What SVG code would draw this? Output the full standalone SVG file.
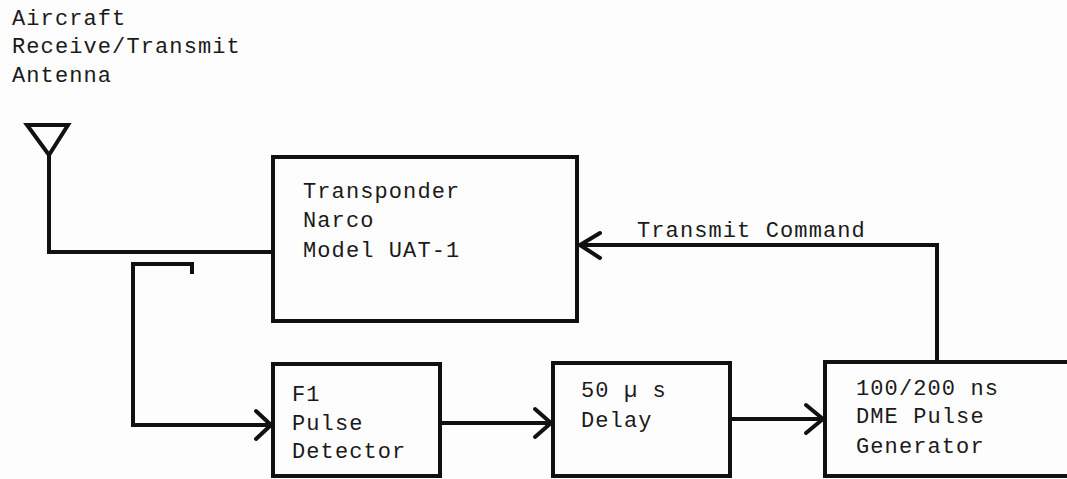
<svg xmlns="http://www.w3.org/2000/svg" width="1067" height="479" viewBox="0 0 1067 479">
<defs>
<style>
.box{fill:none;stroke:#111;stroke-width:4}
.ln{fill:none;stroke:#111;stroke-width:4;stroke-linejoin:miter}
.ah{fill:none;stroke:#111;stroke-width:4;stroke-linecap:round;stroke-linejoin:round}
text{font-family:"Liberation Mono","DejaVu Sans Mono",monospace;font-size:22px;letter-spacing:1.1px;fill:#1a1a1a}
</style>
</defs>
<rect width="1067" height="479" fill="#fdfdfd"/>
<g id="antenna-label">
<text x="12" y="25">Aircraft</text>
<text x="12" y="53">Receive/Transmit</text>
<text x="12" y="82">Antenna</text>
</g>
<g id="antenna">
<polygon class="ln" points="27,125 68,125 49,155"/>
</g>
<g id="transponder">
<rect class="box" x="273" y="157" width="304" height="164"/>
<text x="303" y="198">Transponder</text>
<text x="303" y="227">Narco</text>
<text x="303" y="257">Model UAT-1</text>
</g>
<g id="f1-detector">
<rect class="box" x="273" y="364" width="167" height="112"/>
<text x="292" y="401">F1</text>
<text x="292" y="430">Pulse</text>
<text x="292" y="458">Detector</text>
</g>
<g id="delay">
<rect class="box" x="553" y="363" width="177" height="113"/>
<text x="581" y="397">50 µ s</text>
<text x="581" y="427">Delay</text>
</g>
<g id="dme-generator">
<rect class="box" x="825" y="362" width="250" height="114"/>
<text x="856" y="395">100/200 ns</text>
<text x="856" y="423">DME Pulse</text>
<text x="856" y="453">Generator</text>
</g>
<g id="connectors">
<polyline class="ln" points="49,155 49,252 273,252"/>
<polyline class="ln" points="192,274 192,264 133,264 133,425 270,425"/>
<polyline class="ah" points="256,411 271,425 256,439"/>
<line class="ln" x1="440" y1="423" x2="551" y2="423"/>
<polyline class="ah" points="535,409 551,423 535,437"/>
<line class="ln" x1="730" y1="419" x2="823" y2="419"/>
<polyline class="ah" points="806,405 823,419 806,433"/>
<polyline class="ln" points="937,362 937,245 580,245"/>
<polyline class="ah" points="600,233 580,245 600,258"/>
<text x="637" y="237">Transmit Command</text>
</g>
</svg>
